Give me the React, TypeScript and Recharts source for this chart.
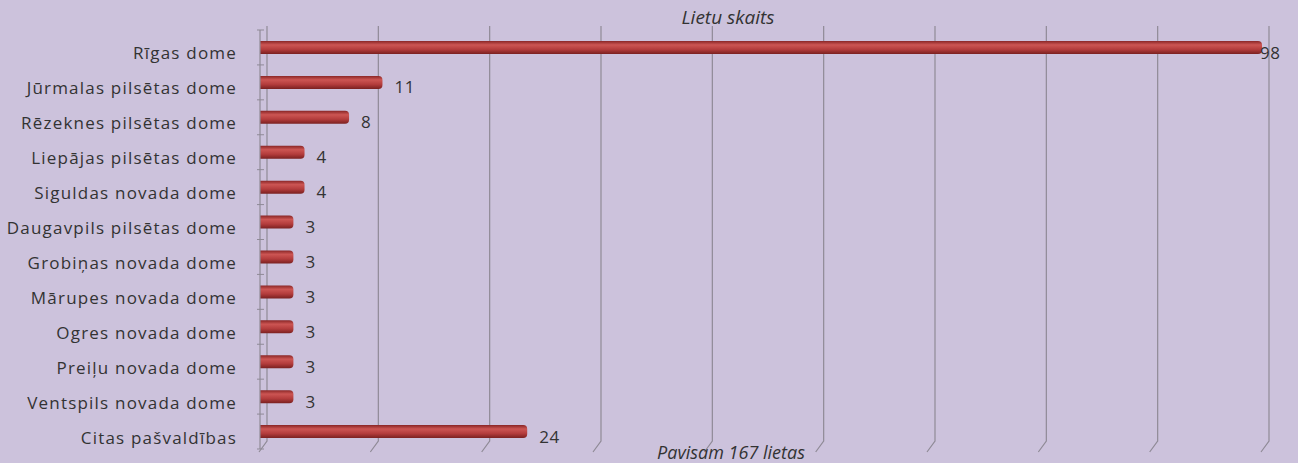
import React from "react"
import { BarChart, Bar, XAxis, YAxis, CartesianGrid, LabelList } from "recharts"

const categories = [
  "Rīgas dome",
  "Jūrmalas pilsētas dome",
  "Rēzeknes pilsētas dome",
  "Liepājas pilsētas dome",
  "Siguldas novada dome",
  "Daugavpils pilsētas dome",
  "Grobiņas novada dome",
  "Mārupes novada dome",
  "Ogres novada dome",
  "Preiļu novada dome",
  "Ventspils novada dome",
  "Citas pašvaldības",
]
const cases = [98, 11, 8, 4, 4, 3, 3, 3, 3, 3, 3, 24]
const xTicks = [0, 10, 20, 30, 40, 50, 60, 70, 80, 90]
const AXIS_MAX = 90

const data = categories.map((name, i) => ({ name, value: cases[i] }))

const BG = "#ccc2dc"
const GRID = "#8f8a96"
const TEXT = "#333333"
const FONT = "'Open Sans', sans-serif"

// 3D look: back wall line shifted right, short slant at the floor
const GridLine = (props: any) => {
  const { x1, y1, y2 } = props
  return (
    <path
      key={props.key}
      d={`M${x1 + 7},${y1 - 4} L${x1 + 7},${y2 - 8} L${x1 - 1},${y2 + 3}`}
      stroke={GRID}
      strokeWidth={1.2}
      fill="none"
    />
  )
}

const CategoryTick = (props: any) => {
  const { x, y, payload, index } = props
  const half = 419 / 12 / 2
  return (
    <g>
      <line x1={x + 5} x2={x + 12} y1={y - half} y2={y - half} stroke={GRID} />
      {index === categories.length - 1 && (
        <line x1={x + 5} x2={x + 12} y1={y + half} y2={y + half} stroke={GRID} />
      )}
      <text
        x={x - 15}
        y={y}
        dy={12}
        textAnchor="end"
        fill={TEXT}
        fontSize={17}
        letterSpacing={1.2}
        fontFamily={FONT}
      >
        {payload.value}
      </text>
    </g>
  )
}

const ValueLabel = (props: any) => {
  const { x, y, width, height, value } = props
  // bar clipped at axis max: label sits right on the end
  const gap = value > AXIS_MAX ? -2 : 12
  return (
    <text
      x={x + width + gap}
      y={y + height / 2}
      dy={11}
      fill={TEXT}
      fontSize={17}
      letterSpacing={0.6}
      fontFamily={FONT}
    >
      {value}
    </text>
  )
}

export default function App() {
  return (
    <div
      style={{
        position: "absolute",
        left: 0,
        top: 0,
        width: 1298,
        height: 463,
        background: BG,
        overflow: "hidden",
      }}
    >
      <div
        style={{
          position: "absolute",
          top: 4,
          left: 0,
          width: 1456,
          textAlign: "center",
          fontFamily: FONT,
          fontStyle: "italic",
          fontSize: 19,
          color: TEXT,
        }}
      >
        Lietu skaits
      </div>
      <BarChart
        width={1298}
        height={463}
        data={data}
        layout="vertical"
        margin={{ top: 30, right: 36, bottom: 14, left: 0 }}
        barCategoryGap={0}
      >
        <defs>
          <linearGradient id="cyl" x1="0" y1="0" x2="0" y2="1">
            <stop offset="0%" stopColor="#8a2626" />
            <stop offset="30%" stopColor="#cc5553" />
            <stop offset="65%" stopColor="#b33c3c" />
            <stop offset="100%" stopColor="#7a2020" />
          </linearGradient>
        </defs>
        <CartesianGrid horizontal={false} vertical={GridLine} stroke={GRID} />
        <XAxis
          type="number"
          domain={[0, AXIS_MAX]}
          ticks={xTicks}
          allowDataOverflow
          axisLine={false}
          tickLine={false}
          tick={() => <g />}
          height={0}
        />
        <YAxis
          type="category"
          dataKey="name"
          width={260}
          tick={CategoryTick}
          tickLine={false}
          axisLine={{ stroke: GRID, strokeWidth: 1.2 }}
        />
        <Bar
          dataKey={(d: any) => Math.min(d.value, AXIS_MAX)}
          fill="url(#cyl)"
          barSize={13}
          radius={[0, 4, 4, 0]}
          isAnimationActive={false}
        >
          <LabelList dataKey="value" content={ValueLabel} />
        </Bar>
      </BarChart>
      <div
        style={{
          position: "absolute",
          top: 440,
          left: 0,
          width: 1462,
          textAlign: "center",
          fontFamily: FONT,
          fontStyle: "italic",
          fontSize: 18,
          color: TEXT,
        }}
      >
        Pavisam 167 lietas
      </div>
    </div>
  )
}
